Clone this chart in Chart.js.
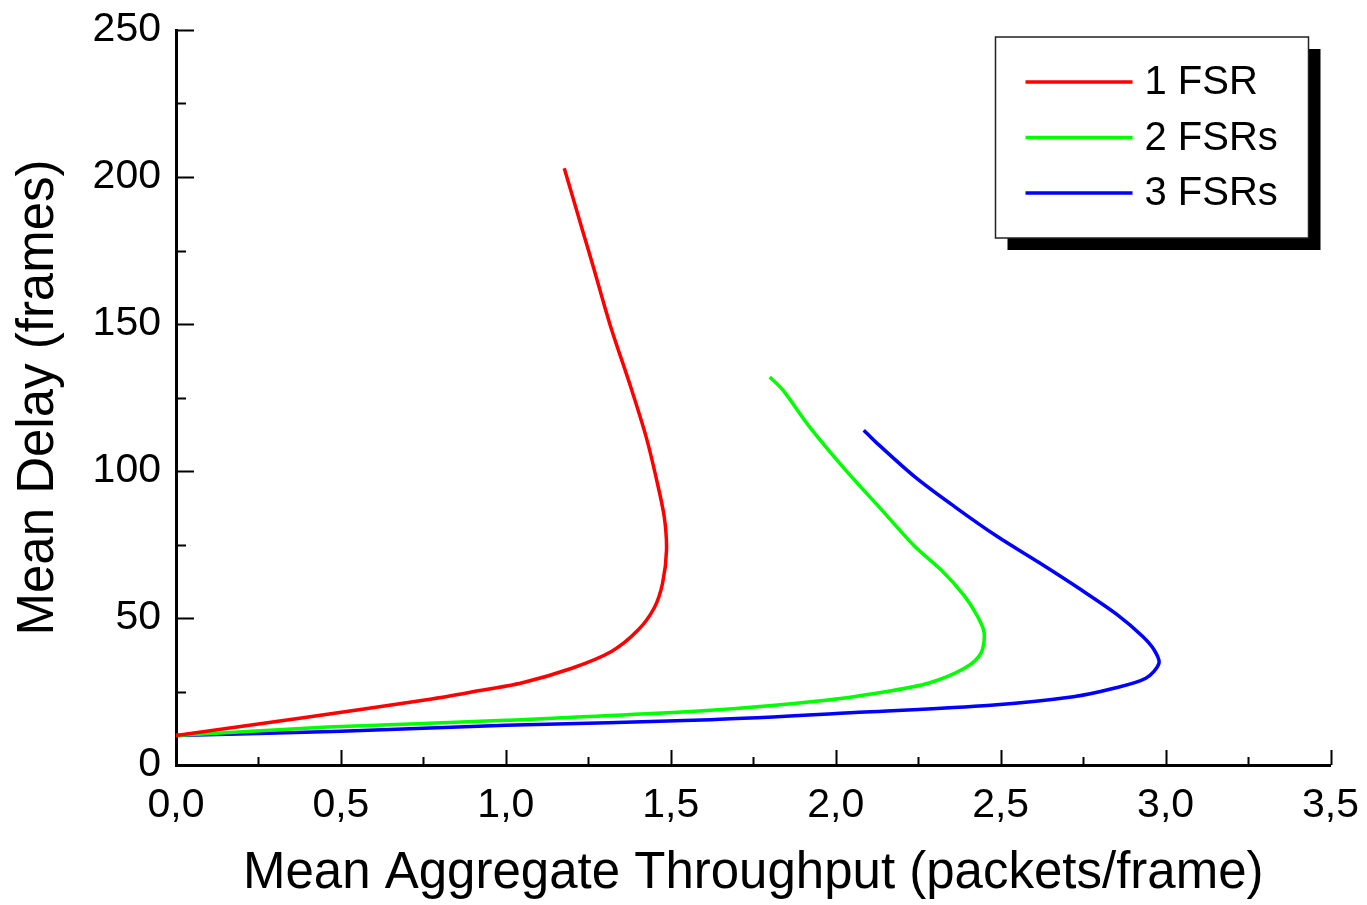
<!DOCTYPE html>
<html>
<head>
<meta charset="utf-8">
<script src="https://cdn.jsdelivr.net/npm/chart.js@4"></script>
<style>
    html, body { margin: 0; padding: 0; background: #fff; }
    #wrap { width: 1367px; height: 905px; }
</style>
</head>
<body>
<div id="wrap"><canvas id="chart"></canvas></div>
<script>
// valores
let etiquetas = ['1 FSR', '2 FSRs', '3 FSRs'];
let colores = ['#ff0000', '#00ff00', '#0000ff'];

let fsr1X = [0, 0.38, 0.77, 0.90, 1.05, 1.20, 1.32, 1.40, 1.45, 1.475, 1.487, 1.48, 1.455, 1.425, 1.375, 1.318, 1.265, 1.232, 1.177];
let fsr1Y = [10, 16, 22.4, 24.9, 28, 32.9, 38.6, 45.8, 53.5, 61.8, 73, 84.5, 98, 111.7, 129.8, 149, 169.5, 182, 203];

let fsr2X = [0, 0.46, 1.0, 1.62, 1.97, 2.15, 2.28, 2.39, 2.44, 2.45, 2.43, 2.39, 2.32, 2.24, 2.14, 2.03, 1.92, 1.84, 1.80];
let fsr2Y = [10, 12.9, 15.2, 18.6, 22, 24.9, 27.8, 32.9, 38, 44.9, 50.5, 57.5, 66.3, 74.3, 86.7, 100.3, 115.1, 127.5, 132];

let fsr3X = [0, 0.5, 1.0, 1.62, 2.09, 2.47, 2.72, 2.84, 2.94, 2.98, 2.965, 2.93, 2.855, 2.745, 2.62, 2.49, 2.36, 2.24, 2.12, 2.085];
let fsr3Y = [10, 11.5, 13.5, 15.4, 18, 20.3, 23.2, 26, 29.5, 34.6, 39.2, 43.8, 51, 59.5, 68.6, 77.7, 87.9, 98, 110, 113.9];

let series = [[fsr1X, fsr1Y], [fsr2X, fsr2Y], [fsr3X, fsr3Y]];

let fuente = "'Liberation Sans', Arial, sans-serif";

let datos = {
    datasets: series.map((s, i) => ({
        label: etiquetas[i],
        data: s[0].map((x, j) => ({ x: x, y: s[1][j] })),
        showLine: true,
        borderColor: colores[i],
        backgroundColor: colores[i],
        borderWidth: 3.5,
        pointRadius: 0,
        tension: 0.3,
        fill: false,
    }))
};

// marcas hacia dentro (mayores y menores)
let marcas = {
    id: 'marcas',
    afterDraw(chart) {
        let ctx = chart.ctx, xs = chart.scales.x, ys = chart.scales.y;
        ctx.save();
        ctx.strokeStyle = '#000';
        ctx.lineWidth = 2;
        ctx.beginPath();
        for (let k = 1; k <= 14; k++) {
            let px = Math.round(xs.getPixelForValue(k * 0.25)) + 0.5;
            let len = k % 2 === 0 ? 15 : 8;
            ctx.moveTo(px, ys.bottom);
            ctx.lineTo(px, ys.bottom - len);
        }
        for (let k = 1; k <= 10; k++) {
            let py = Math.round(ys.getPixelForValue(k * 25)) + 0.5;
            let len = k % 2 === 0 ? 18 : 10;
            ctx.moveTo(xs.left, py);
            ctx.lineTo(xs.left + len, py);
        }
        ctx.stroke();
        ctx.restore();
    }
};

// leyenda con sombra
let leyenda = {
    id: 'leyenda',
    afterDraw(chart) {
        let ctx = chart.ctx, a = chart.chartArea;
        let w = 313, h = 201;
        let x0 = a.right - 22 - w, y0 = a.top + 7;
        ctx.save();
        ctx.fillStyle = '#000';
        ctx.fillRect(x0 + 12, y0 + 12, w, h);
        ctx.fillStyle = '#fff';
        ctx.fillRect(x0, y0, w, h);
        ctx.strokeStyle = '#222';
        ctx.lineWidth = 1.5;
        ctx.strokeRect(x0, y0, w, h);
        ctx.font = '40px ' + fuente;
        ctx.textBaseline = 'middle';
        ctx.textAlign = 'left';
        chart.data.datasets.forEach((ds, i) => {
            let y = y0 + 45 + i * 55.5;
            ctx.strokeStyle = ds.borderColor;
            ctx.lineWidth = 3.5;
            ctx.beginPath();
            ctx.moveTo(x0 + 30, y);
            ctx.lineTo(x0 + 137, y);
            ctx.stroke();
            ctx.fillStyle = '#000';
            ctx.fillText(ds.label, x0 + 149, y + 1);
        });
        ctx.restore();
    }
};

let opciones = {
    responsive: true,
    maintainAspectRatio: false,
    animation: false,
    layout: { padding: { left: 8, right: 24, top: 30, bottom: 0 } },
    scales: {
        x: {
            type: 'linear',
            min: 0,
            max: 3.5,
            grid: { display: false },
            border: { display: true, color: '#000', width: 3 },
            ticks: {
                stepSize: 0.5,
                color: '#000',
                padding: 8,
                maxRotation: 0,
                font: { family: fuente, size: 41 },
                callback: v => v.toFixed(1).replace('.', ',')
            },
            title: {
                display: true,
                text: 'Mean Aggregate Throughput (packets/frame)',
                color: '#000',
                padding: { top: 0, bottom: 0 },
                font: { family: fuente, size: 51 }
            },
            afterFit: s => { s.height = 140; }
        },
        y: {
            type: 'linear',
            min: 0,
            max: 250,
            grid: { display: false },
            border: { display: true, color: '#000', width: 3 },
            ticks: {
                stepSize: 50,
                color: '#000',
                padding: 7,
                font: { family: fuente, size: 41, lineHeight: 0.6 }
            },
            title: {
                display: true,
                text: 'Mean Delay (frames)',
                color: '#000',
                padding: { top: 0, bottom: 0 },
                font: { family: fuente, size: 51 }
            },
            afterFit: s => { s.width = 168; }
        }
    },
    plugins: {
        legend: { display: false },
        tooltip: { enabled: false }
    }
};

let ctx = document.getElementById('chart');

let miGrafica = new Chart(ctx, {
    type: 'scatter',
    data: datos,
    options: opciones,
    plugins: [marcas, leyenda]
});
</script>
</body>
</html>
